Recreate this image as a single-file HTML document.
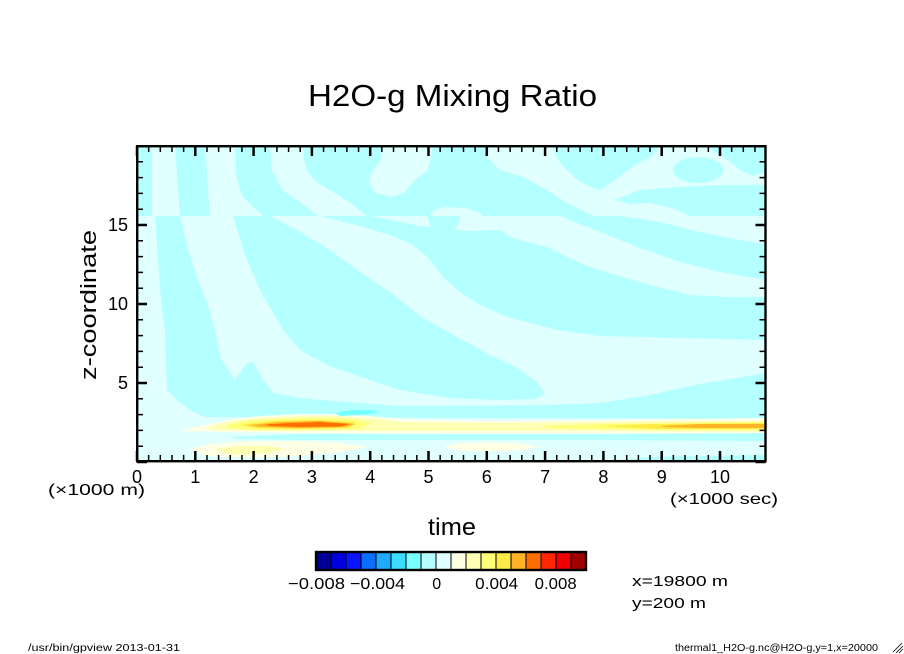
<!DOCTYPE html>
<html><head><meta charset="utf-8"><style>
html,body{margin:0;padding:0;background:#fff;}
svg{display:block;}
text{font-family:"Liberation Sans",sans-serif;fill:#000;}
</style></head><body>
<svg width="904" height="654" viewBox="0 0 904 654" xmlns="http://www.w3.org/2000/svg">
<rect width="904" height="654" fill="#fff"/>
<defs><clipPath id="c"><rect x="137" y="146" width="629" height="316"/></clipPath></defs>
<g clip-path="url(#c)">
<rect x="137" y="146" width="629" height="316" fill="#e0ffff"/>
<g fill="#b4ffff">
<!-- upper section -->
<rect x="137" y="146" width="15" height="70"/>
<polygon points="175,146 205,146 210,216 180,216"/>
<polygon points="235,146 270,146 272,170 282,190 300,202 318,216 263,216 252,206 242,195 236,175"/>
<polygon points="303,146 383,146 381,160 371,173 369,183 375,193 392,197 405,192 415,180 427,171 431,158 432,146 485,146 488,158 500,170 523,177 547,190 567,203 585,212 595,216 367,216 352,204 335,193 318,183 308,172 304,160"/>
<polygon points="553,146 660,146 652,156 635,165 615,180 600,190 588,186 575,178 562,165 555,155"/>
<ellipse cx="698" cy="170" rx="25" ry="13"/>
<polygon points="705,146 766,146 766,172 752,176 740,170 728,160 715,152"/>
<polygon points="615,200 640,190 680,187 720,185 766,185 766,216 690,216 672,208 650,203 630,204"/>
<!-- lower section -->
<polygon points="155,216 158,260 161,300 165,330 167,390 177,400 190,410 205,417 766,419 766,373 700,384 650,395 600,403 550,405 450,406 400,406 333,401 300,398 273,393 263,380 253,362 247,363 235,380 220,357 215,330 208,305 198,280 188,250 180,216"/>
<polygon points="233,216 245,255 260,290 283,330 300,350 327,365 367,379 400,390 450,398 500,400 535,399 545,394 537,382 517,368 490,355 457,337 423,318 390,292 360,272 330,250 300,232 270,216"/>
<polygon points="320,216 360,226 390,235 410,243 423,253 433,263 443,277 457,290 480,305 507,317 557,330 600,336 680,338 766,340 766,297 730,297 690,295 657,287 623,277 590,267 567,257 547,247 530,243 510,237 500,230 470,231 420,226 370,216"/>
<polygon points="560,216 620,216 660,222 700,232 740,240 766,244 766,280 720,272 680,262 640,248 600,232"/>
<path d="M428,216 A16,17 0 0 0 460,216 Z"/>
</g>
<polygon fill="#e0ffff" points="430,216 434,210 445,207 465,208 478,212 483,216"/>
<!-- band -->
<polygon fill="#b4ffff" points="228,437 300,434 450,434 766,433 766,441 600,440 450,440 300,440 240,439"/>
<polygon fill="#ffffe6" points="180,430 200,426 230,420 260,416 300,414 340,414 380,417 420,420 500,421 600,420 700,419 766,418 766,433 600,434 450,434 300,433 220,432 190,431"/>
<polygon fill="#ffffb4" points="205,428 230,421 260,418 300,416 340,416 375,419 400,422 500,423 600,422 700,421 766,421 766,432 600,431 450,431 350,431 260,431 215,430"/>
<polygon fill="#ffff78" points="225,426 245,421 280,419 320,418 350,419 372,423 360,429 300,430 250,430 230,428"/>
<polygon fill="#ffff78" points="540,426 600,424 680,423 766,422 766,430 680,430 600,429 550,428"/>
<polygon fill="#ffeb46" points="240,425 270,421 320,420 355,422 350,428 300,429 255,428"/>
<polygon fill="#ffeb46" points="600,426 650,424 766,423 766,429 650,429"/>
<polygon fill="#ffb428" points="248,425 280,422 320,421 356,424 345,427 300,428 260,427"/>
<polygon fill="#ffb428" points="660,426 700,424 766,424 766,428 700,428 665,427"/>
<polygon fill="#ff6e00" points="265,424.5 290,423 320,422 350,424 340,426.5 300,427 270,426"/>
<polygon fill="#78ffff" points="335,413 350,410 372,410 380,412 360,415 340,416"/>
<polygon fill="#ffffe6" points="190,449 210,444 250,441 300,441 340,443 367,447 340,452 300,456 250,458 205,456"/>
<polygon fill="#ffffb4" points="213,450 235,446 270,446 285,449 270,453 235,455"/>
<ellipse fill="#ffffe6" cx="490" cy="447" rx="45" ry="4.5"/>
<polygon fill="#b4ffff" points="600,462 650,457 766,455 766,462"/>
</g>
<!-- ticks -->
<g stroke="#000" fill="none">
<line x1="136.25" y1="149" x2="766" y2="149" stroke-width="6" stroke-dasharray="1.5 10.16"/>
<line x1="135.75" y1="151" x2="766" y2="151" stroke-width="10" stroke-dasharray="2.5 55.8"/>
<line x1="136.25" y1="458" x2="766" y2="458" stroke-width="6" stroke-dasharray="1.5 10.16"/>
<line x1="135.75" y1="456" x2="766" y2="456" stroke-width="10" stroke-dasharray="2.5 55.8"/>
<line x1="140" y1="462.75" x2="140" y2="146" stroke-width="6" stroke-dasharray="1.5 14.3"/>
<line x1="142" y1="463.25" x2="142" y2="146" stroke-width="10" stroke-dasharray="2.5 76.5"/>
<line x1="762.5" y1="462.75" x2="762.5" y2="146" stroke-width="6" stroke-dasharray="1.5 14.3"/>
<line x1="760.5" y1="463.25" x2="760.5" y2="146" stroke-width="10" stroke-dasharray="2.5 76.5"/>
<rect x="137.2" y="146.2" width="628.3" height="315" stroke-width="2.4"/>
</g>
<!-- labels -->
<text x="308" y="106" font-size="31" textLength="289" lengthAdjust="spacingAndGlyphs">H2O-g Mixing Ratio</text>
<text transform="translate(96,305) rotate(-90)" text-anchor="middle" font-size="22" textLength="150" lengthAdjust="spacingAndGlyphs">z-coordinate</text>
<g font-size="18" text-anchor="end">
<text x="128" y="231">15</text>
<text x="128" y="310">10</text>
<text x="128" y="389">5</text>
</g>
<g font-size="18" text-anchor="middle">
<text x="137" y="483">0</text>
<text x="195.3" y="483">1</text>
<text x="253.6" y="483">2</text>
<text x="311.9" y="483">3</text>
<text x="370.2" y="483">4</text>
<text x="428.5" y="483">5</text>
<text x="486.8" y="483">6</text>
<text x="545.1" y="483">7</text>
<text x="603.4" y="483">8</text>
<text x="661.7" y="483">9</text>
<text x="720" y="483">10</text>
</g>
<text x="48" y="495" font-size="16" textLength="97" lengthAdjust="spacingAndGlyphs">(×1000 m)</text>
<text x="670" y="504" font-size="16" textLength="108" lengthAdjust="spacingAndGlyphs">(×1000 sec)</text>
<text x="428" y="535" font-size="24" textLength="48" lengthAdjust="spacingAndGlyphs">time</text>
<!-- colorbar -->
<g stroke="#000" stroke-width="1">
<rect x="316" y="552" width="15" height="18" fill="#000096"/>
<rect x="331" y="552" width="15" height="18" fill="#0000dc"/>
<rect x="346" y="552" width="15" height="18" fill="#0a14ff"/>
<rect x="361" y="552" width="15" height="18" fill="#0a6eff"/>
<rect x="376" y="552" width="15" height="18" fill="#1eaaff"/>
<rect x="391" y="552" width="15" height="18" fill="#3cdcff"/>
<rect x="406" y="552" width="15" height="18" fill="#78ffff"/>
<rect x="421" y="552" width="15" height="18" fill="#b4ffff"/>
<rect x="436" y="552" width="15" height="18" fill="#e0ffff"/>
<rect x="451" y="552" width="15" height="18" fill="#ffffe6"/>
<rect x="466" y="552" width="15" height="18" fill="#ffffb4"/>
<rect x="481" y="552" width="15" height="18" fill="#ffff78"/>
<rect x="496" y="552" width="15" height="18" fill="#ffeb46"/>
<rect x="511" y="552" width="15" height="18" fill="#ffb428"/>
<rect x="526" y="552" width="15" height="18" fill="#ff6e00"/>
<rect x="541" y="552" width="15" height="18" fill="#ff2800"/>
<rect x="556" y="552" width="15" height="18" fill="#f00000"/>
<rect x="571" y="552" width="15" height="18" fill="#a00000"/>
<rect x="316" y="552" width="270" height="18" fill="none" stroke-width="2.4"/>
</g>
<g font-size="16" text-anchor="middle">
<text x="316.5" y="589" textLength="57" lengthAdjust="spacingAndGlyphs">−0.008</text>
<text x="377.5" y="589" textLength="55" lengthAdjust="spacingAndGlyphs">−0.004</text>
<text x="436.7" y="589">0</text>
<text x="496.7" y="589" textLength="43" lengthAdjust="spacingAndGlyphs">0.004</text>
<text x="555.7" y="589" textLength="42" lengthAdjust="spacingAndGlyphs">0.008</text>
</g>
<text x="632" y="586" font-size="15" textLength="96" lengthAdjust="spacingAndGlyphs">x=19800 m</text>
<text x="632" y="608" font-size="15" textLength="74" lengthAdjust="spacingAndGlyphs">y=200 m</text>
<text x="28" y="651" font-size="10" textLength="152" lengthAdjust="spacingAndGlyphs">/usr/bin/gpview  2013-01-31</text>
<text x="675" y="651" font-size="10" textLength="203" lengthAdjust="spacingAndGlyphs">thermal1_H2O-g.nc@H2O-g,y=1,x=20000</text>
<path d="M893,652 L902,643 M896,653 L903,646 M899,653 L903,649" stroke="#000" stroke-width="0.8" fill="none"/>
</svg>
</body></html>
